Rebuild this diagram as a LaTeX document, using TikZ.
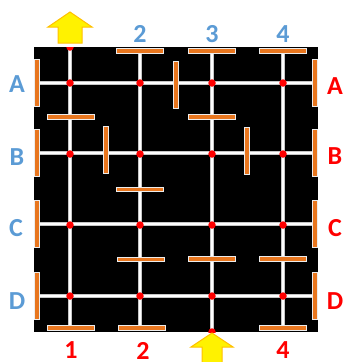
\documentclass[tikz,border=0pt]{standalone}
\usepackage{fontspec}
\setmainfont{Carlito}
\definecolor{lblblue}{HTML}{5B9BD5}
\definecolor{barorange}{HTML}{E8761E}
\definecolor{arrowedge}{HTML}{FFC000}
\pgfdeclarelayer{bg}
\pgfdeclarelayer{mid}
\pgfsetlayers{bg,mid,main}
\begin{document}
\begin{tikzpicture}[x=1pt,y=-1pt,
  wire/.style={draw=gray!45, line width=0.5pt, double=white, double distance=2.2pt},
  hbar/.style={rectangle, fill=barorange, draw=white!85!gray, line width=0.8pt, minimum width=47pt, minimum height=4.6pt, inner sep=0pt},
  vbar/.style={hbar, minimum width=4.6pt, minimum height=47pt},
  dot/.style={circle, fill=red, minimum size=7.5pt, inner sep=0pt},
  blue label/.style={text=lblblue, font=\fontsize{26}{26}\selectfont\bfseries, inner sep=0pt},
  red label/.style={blue label, text=red},
  bigarrow/.style={fill=yellow, draw=arrowedge, line width=1pt, line join=miter}]
\useasboundingbox (0,0) rectangle (343,362);
\begin{pgfonlayer}{bg}
  \fill[black] (34,47) rectangle (318,332);
\end{pgfonlayer}
% edge bars
\node[hbar] (top2) at (140,51) {};
\node[hbar] (top3) at (212,51) {};
\node[hbar] (top4) at (283,51) {};
\node[hbar] (bot1) at (71,328) {};
\node[hbar] (bot2) at (142,328) {};
\node[hbar] (bot4) at (283,328) {};
\node[vbar] (leftA) at (37,83) {};
\node[vbar] (leftB) at (37,153) {};
\node[vbar] (leftC) at (37,224) {};
\node[vbar] (leftD) at (37,296) {};
\node[vbar] (rightA) at (315,83) {};
\node[vbar] (rightB) at (315,153) {};
\node[vbar] (rightC) at (315,224) {};
\node[vbar] (rightD) at (315,296) {};
% interior bars
\node[hbar] (h1) at (71,117) {};
\node[vbar] (v1) at (106,150) {};
\node[vbar] (v2) at (176,85) {};
\node[hbar] (h2) at (212,117) {};
\node[vbar] (v3) at (247,151) {};
\node[hbar] (h3) at (139.5,189.5) {};
\node[hbar] (h4) at (141,259.5) {};
\node[hbar] (h5) at (212,259) {};
\node[hbar] (h6) at (283,259) {};
% exits
\begin{scope}
  \clip (34,47) rectangle (318,332);
  \node[dot] (X1) at (70,47) {};
  \node[dot] (X3) at (212,332) {};
\end{scope}
% junction dots
\foreach \r/\y in {A/83,B/154,C/225,D/296}{
  \foreach \c/\x in {1/70,2/140,3/212,4/283}{
    \node[dot] (j\r\c) at (\x,\y) {};
  }
}
% wires
\begin{pgfonlayer}{mid}
  \foreach \r in {A,B,C,D}{
    \draw[wire] (left\r.center) -- (left\r.center -| right\r.center);
  }
  \draw[wire] (X1.center) -- (X1.center |- bot1.center);
  \draw[wire] (top2.center) -- (top2.center |- bot2.center);
  \draw[wire] (top3.center) -- (X3.center);
  \draw[wire] (top4.center) -- (bot4.center);
\end{pgfonlayer}
% arrows
\draw[bigarrow] (58,43) -- (58,27) -- (48,27) -- (70,12) -- (92,27) -- (82,27) -- (82,43) -- cycle;
\draw[bigarrow] (202,366) -- (202,347) -- (191,347) -- (212,333) -- (233,347) -- (222,347) -- (222,366) -- cycle;
% labels
\node[blue label] (t2) at (140,34) {2};
\node[blue label] (t3) at (212,34) {3};
\node[blue label] (t4) at (283,34) {4};
\node[red label] (b1) at (71,350.5) {1};
\node[red label] (b2) at (143,350.5) {2};
\node[red label] (b4) at (283,350.5) {4};
\node[blue label] (lA) at (17,84) {A};
\node[blue label] (lB) at (17,157) {B};
\node[blue label] (lC) at (16,228) {C};
\node[blue label] (lD) at (17,301) {D};
\node[red label] (rA) at (335,86) {A};
\node[red label] (rB) at (335,156) {B};
\node[red label] (rC) at (335,228) {C};
\node[red label] (rD) at (335,301) {D};
\end{tikzpicture}
\end{document}
